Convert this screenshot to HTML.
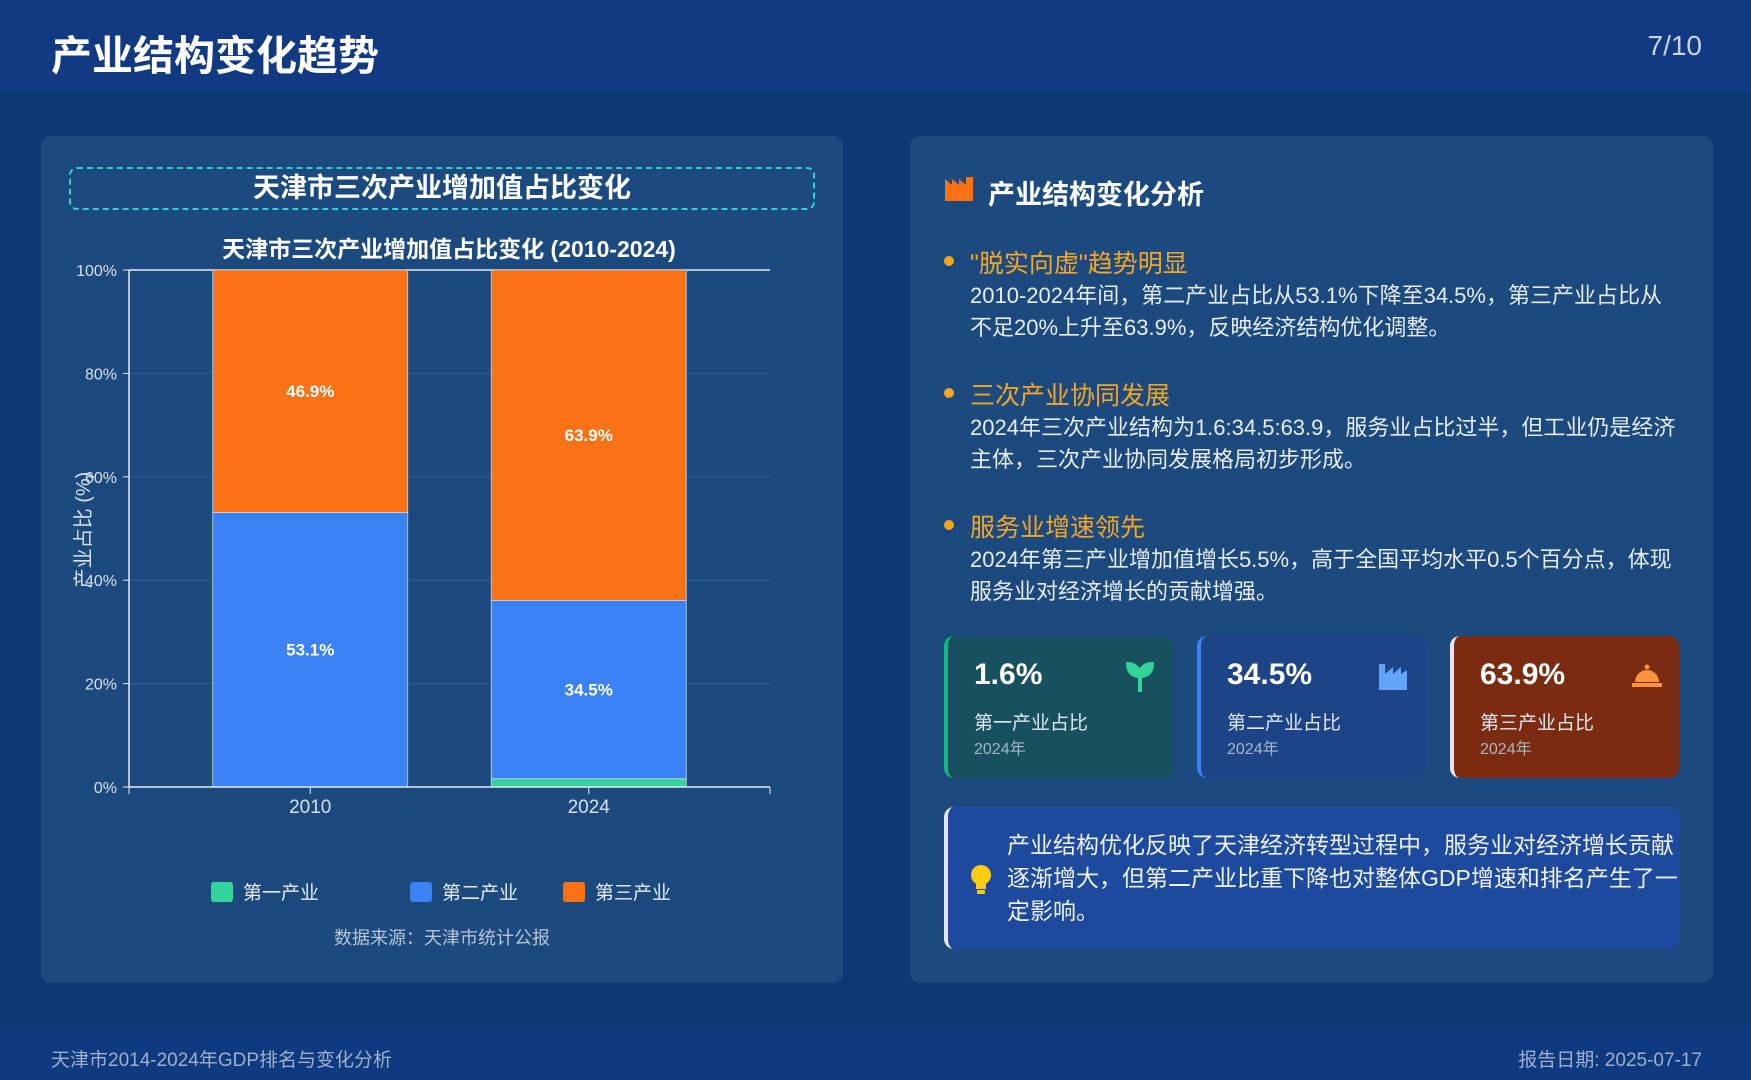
<!DOCTYPE html>
<html><head><meta charset="utf-8">
<style>
*{margin:0;padding:0;box-sizing:border-box}
body{width:1751px;height:1080px;overflow:hidden;background:#0b3a72;font-family:"Liberation Sans","Noto Sans CJK SC",sans-serif;color:#fff;position:relative}
.abs{position:absolute}
#header{left:0;top:0;width:1751px;height:92px;background:#123a82}
#footer{left:0;top:1025px;width:1751px;height:55px;background:#0f3a80}
.card{background:#1c4a7e;border-radius:10px}
.bt{font-size:25px;color:#f6a623;position:absolute;left:970px}
.bd{font-size:22px;color:#e5ecf5;position:absolute;left:970px;line-height:32px;width:706px}
.dot{position:absolute;left:944px;width:10px;height:10px;border-radius:50%;background:#f6a623}
.stat{position:absolute;top:636px;width:229px;height:142px;border-radius:10px}
.sv{position:absolute;left:26px;top:22px;font-size:30px;font-weight:bold}
.sl{position:absolute;left:26px;top:72px;font-size:19px;color:#dfe7f2}
.sy{position:absolute;left:26px;top:99px;font-size:16px;color:#a9b6c8}
</style></head><body>
<div id="header" class="abs"></div>
<div class="abs" style="left:51px;top:22px;font-size:41px;font-weight:bold">产业结构变化趋势</div>
<div class="abs" style="right:49px;top:30px;font-size:28px;color:#c9d3e6">7/10</div>

<div class="abs card" style="left:41px;top:136px;width:802px;height:847px"></div>
<div class="abs" style="left:69px;top:167px;width:746px;height:43px;border:2px dashed #2cd3d0;border-radius:8px;text-align:center;font-size:27px;font-weight:bold;line-height:39px">天津市三次产业增加值占比变化</div>
<svg class="abs" style="left:0;top:0" width="1751" height="1080" id="chart"></svg>

<div class="abs card" style="left:910px;top:136px;width:803px;height:847px"></div>
<svg class="abs" style="left:945px;top:177px" width="28" height="24"><path d="M0 24V2l7 6V2l7 6V2l7 6V0h7v24z" fill="#f97316"/></svg>
<div class="abs" style="left:988px;top:173px;font-size:27px;font-weight:bold">产业结构变化分析</div>

<div class="dot" style="top:256px"></div>
<div class="bt" style="top:244px">"脱实向虚"趋势明显</div>
<div class="bd" style="top:280px">2010-2024年间，第二产业占比从53.1%下降至34.5%，第三产业占比从不足20%上升至63.9%，反映经济结构优化调整。</div>
<div class="dot" style="top:388px"></div>
<div class="bt" style="top:376px">三次产业协同发展</div>
<div class="bd" style="top:412px">2024年三次产业结构为1.6:34.5:63.9，服务业占比过半，但工业仍是经济主体，三次产业协同发展格局初步形成。</div>
<div class="dot" style="top:520px"></div>
<div class="bt" style="top:508px">服务业增速领先</div>
<div class="bd" style="top:544px">2024年第三产业增加值增长5.5%，高于全国平均水平0.5个百分点，体现服务业对经济增长的贡献增强。</div>

<div class="stat" style="left:944px;background:#17515f;border-left:4px solid #10b981">
<div class="sv">1.6%</div><div class="sl">第一产业占比</div><div class="sy">2024年</div>
<svg class="abs" style="left:178px;top:26px" width="28" height="30"><path d="M14 30V14M14 16C14 6 8 2 2 2c0 8 5 12 12 12M14 14c0-8 5-12 12-12 0 8-5 12-12 12" stroke="#34d399" stroke-width="4" fill="#34d399"/></svg></div>
<div class="stat" style="left:1197px;background:#1d4487;border-left:4px solid #3b82f6">
<div class="sv">34.5%</div><div class="sl">第二产业占比</div><div class="sy">2024年</div>
<svg class="abs" style="left:178px;top:28px" width="28" height="26"><path d="M0 26V0h6v10l8-7v7l8-7v7l6-4v20z" fill="#60a5fa"/></svg></div>
<div class="stat" style="left:1450px;background:#7b2b0f;border-left:4px solid #e5e7eb">
<div class="sv">63.9%</div><div class="sl">第三产业占比</div><div class="sy">2024年</div>
<svg class="abs" style="left:178px;top:28px" width="30" height="24"><circle cx="15" cy="3" r="2.5" fill="#fb923c"/><path d="M3 18a12 12 0 0 1 24 0z" fill="#fb923c"/><rect x="0" y="19" width="30" height="4" fill="#fb923c"/></svg></div>

<div class="abs" style="left:944px;top:807px;width:736px;height:142px;background:#1e4a9e;border-radius:10px;border-left:4px solid #e5e7eb"></div>
<svg class="abs" style="left:970px;top:864px" width="22" height="32"><circle cx="11" cy="11" r="10" fill="#facc15"/><rect x="6" y="18" width="10" height="7" fill="#facc15"/><rect x="7" y="26" width="8" height="4" rx="1" fill="#facc15"/></svg>
<div class="abs" style="left:1007px;top:829px;width:676px;font-size:23px;line-height:33px;color:#eef2fb">产业结构优化反映了天津经济转型过程中，服务业对经济增长贡献逐渐增大，但第二产业比重下降也对整体GDP增速和排名产生了一定影响。</div>

<div id="footer" class="abs"></div>
<div class="abs" style="left:51px;top:1045px;font-size:19px;color:#9fb0cc">天津市2014-2024年GDP排名与变化分析</div>
<div class="abs" style="right:49px;top:1045px;font-size:19px;color:#9fb0cc">报告日期: 2025-07-17</div>

<script>
const categories=["2010","2024"];
const primary=[0,1.6];
const secondary=[53.1,34.5];
const tertiary=[46.9,63.9];
const yTicks=[0,20,40,60,80,100];
const seriesNames=["第一产业","第二产业","第三产业"];
const colors=["#34d399","#3b82f6","#f97316"];
const svg=document.getElementById('chart');
const NS="http://www.w3.org/2000/svg";
const L=129,R=770,T=270,B=787,PAD=42;
const y=v=>B-(v/100)*(B-T);
const band=(R-L-2*PAD)/categories.length;
const xc=i=>L+PAD+band*(i+0.5);
const bw=195;
function mk(tag,a,txt){const e=document.createElementNS(NS,tag);for(const k in a)e.setAttribute(k,a[k]);if(txt!==undefined)e.textContent=txt;svg.appendChild(e);return e;}
let t=mk('text',{x:449,y:257,'text-anchor':'middle','font-size':23,'font-weight':'bold',fill:'#fff'},'天津市三次产业增加值占比变化 (2010-2024)');


yTicks.forEach(v=>{
  if(v>0&&v<100){const g=mk('line',{x1:L,x2:R,y1:y(v),y2:y(v),stroke:'#2f5c8e','stroke-width':1});
  
  }
  const tk=mk('line',{x1:L-6,x2:L,y1:y(v),y2:y(v),stroke:'#dfe7f2'});
  
  
  const l=mk('text',{x:L-12,y:y(v)+6,'text-anchor':'end','font-size':16,fill:'#d6e0ee'},v+'%');
  
  
});
const ax=mk('line',{x1:L,x2:L,y1:T,y2:B,stroke:'#e5ebf3','stroke-width':1.5});


const tl=mk('line',{x1:L,x2:R,y1:T,y2:T,stroke:'#e5ebf3','stroke-width':1.5});


const yt=mk('text',{x:0,y:0,transform:`translate(90,530) rotate(-90)`,'text-anchor':'middle','font-size':20,fill:'#d6e0ee'},'产业占比 (%)');


categories.forEach((c,i)=>{
  let base=0;
  [primary,secondary,tertiary].forEach((s,k)=>{
    const v=s[i];
    if(v>0){
      const r=mk('rect',{x:xc(i)-bw/2,y:y(base+v),width:bw,height:y(base)-y(base+v),fill:colors[k],stroke:'#c9d6ea','stroke-width':0.8});
      
      
      if(v>5){const lb=mk('text',{x:xc(i),y:(y(base)+y(base+v))/2+6,'text-anchor':'middle','font-size':17,'font-weight':'bold',fill:'#fff'},v.toFixed(1)+'%');
      
      }
    }
    base+=v;
  });
  const tk=mk('line',{x1:xc(i),x2:xc(i),y1:B,y2:B+7,stroke:'#e5ebf3'});
  
  
  const xl=mk('text',{x:xc(i),y:B+26,'text-anchor':'middle','font-size':19,fill:'#d6e0ee'},c);
  
  
});
[L,R].forEach(xx=>{const e=mk('line',{x1:xx,x2:xx,y1:B,y2:B+7,stroke:'#e5ebf3'});

});
const xa=mk('line',{x1:L,x2:R,y1:B,y2:B,stroke:'#e5ebf3','stroke-width':1.5});


const lx=[211,410,563];
seriesNames.forEach((n,k)=>{
  const r=mk('rect',{x:lx[k],y:882,width:22,height:20,rx:3,fill:colors[k]});
  
  
  const tx=mk('text',{x:lx[k]+32,y:899,'font-size':19,fill:'#e5ebf3'},n);
  
  
});
const src=mk('text',{x:442,y:944,'text-anchor':'middle','font-size':18,fill:'#b7c4d8'},'数据来源：天津市统计公报');


</script>
</body></html>
